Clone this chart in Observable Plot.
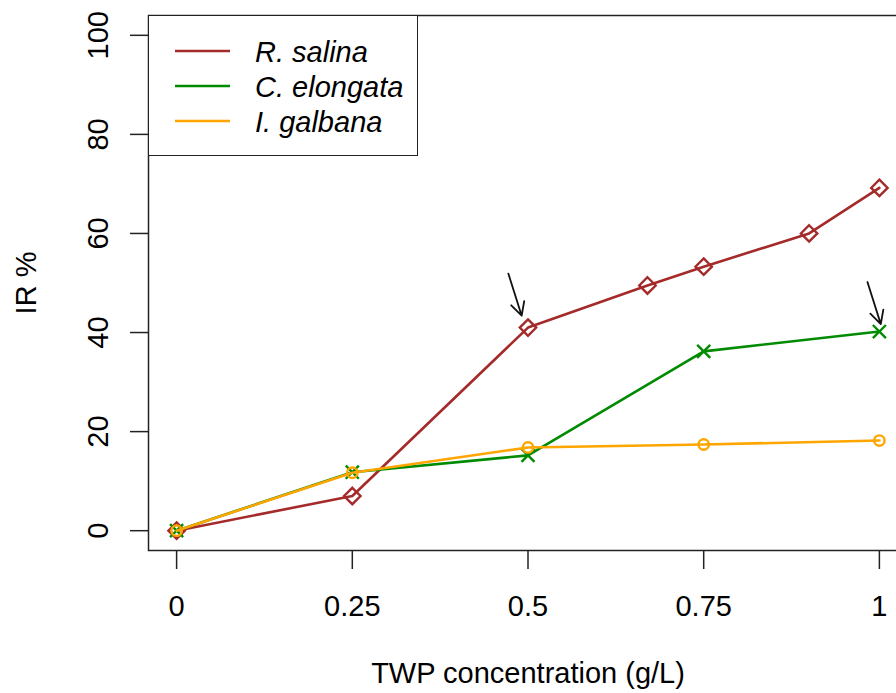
<!DOCTYPE html>
<html>
<head>
<meta charset="utf-8">
<script src="https://cdn.jsdelivr.net/npm/d3@7"></script>
<script src="https://cdn.jsdelivr.net/npm/@observablehq/plot@0.6"></script>
<style>
  html, body { margin: 0; padding: 0; background: #fff; }
  #wrap { position: relative; width: 896px; height: 693px; overflow: hidden; font-family: "Liberation Sans", Arial, sans-serif; }
  #legend { position: absolute; left: 148px; top: 15px; width: 270px; height: 141px; border: 1.5px solid #222; box-sizing: border-box; background: #fff; }
</style>
</head>
<body>
<div id="wrap"></div>
<script>
// ---- data ----
const seriesNames = ["R. salina", "C. elongata", "I. galbana"];
const seriesColors = ["#A52A2A", "#008B00", "#FFA500"];
const seriesSymbols = ["diamond2", "times", "circle"];

const xRsalina = [0, 0.25, 0.5, 0.67, 0.75, 0.9, 1];
const yRsalina = [0, 7.0, 41.0, 49.5, 53.3, 60.0, 69.2];

const xCelongata = [0, 0.25, 0.5, 0.75, 1];
const yCelongata = [0, 11.8, 15.2, 36.2, 40.2];

const xIgalbana = [0, 0.25, 0.5, 0.75, 1];
const yIgalbana = [0, 11.7, 16.8, 17.4, 18.2];

const xTicks = [0, 0.25, 0.5, 0.75, 1];
const xTickLabels = ["0", "0.25", "0.5", "0.75", "1"];
const yTicks = [0, 20, 40, 60, 80, 100];
const yTickLabels = ["0", "20", "40", "60", "80", "100"];

const xTitle = "TWP concentration (g/L)";
const yTitle = "IR %";

// arrows (annotations), in data units
const arrowX1 = [0.472, 0.983];
const arrowY1 = [51.9, 50.2];
const arrowX2 = [0.491, 1.002];
const arrowY2 = [43.4, 41.7];

// ---- build tables ----
const seriesX = [xRsalina, xCelongata, xIgalbana];
const seriesY = [yRsalina, yCelongata, yIgalbana];
const rows = [];
seriesNames.forEach((name, s) => {
  seriesX[s].forEach((x, i) => rows.push({series: name, x, y: seriesY[s][i]}));
});
const arrows = arrowX1.map((x1, i) => ({x1, y1: arrowY1[i], x2: arrowX2[i], y2: arrowY2[i]}));

const marks = [
  Plot.frame({stroke: "#222", strokeWidth: 1.5}),
  Plot.axisX({ticks: xTicks, tickFormat: (d, i) => xTickLabels[xTicks.indexOf(d)], tickSize: 19, tickPadding: 26, stroke: "#222", strokeWidth: 1.5, fontSize: 29, fill: "#000", label: null}),
  Plot.axisY({ticks: yTicks, tickFormat: (d) => yTickLabels[yTicks.indexOf(d)], tickSize: 18, tickPadding: 23, tickRotate: -90, stroke: "#222", strokeWidth: 1.5, fontSize: 29, fill: "#000", label: null}),
  Plot.text([xTitle], {frameAnchor: "bottom", dy: 123, text: d => d, fontSize: 29, fill: "#000", lineAnchor: "middle"}),
  Plot.text([yTitle], {frameAnchor: "left", dx: -113, rotate: -90, text: d => d, fontSize: 29, fill: "#000", lineAnchor: "bottom", textAnchor: "middle"})
];
seriesNames.forEach((name, s) => {
  const d = rows.filter(r => r.series === name);
  marks.push(Plot.line(d, {x: "x", y: "y", stroke: seriesColors[s], strokeWidth: 2.6}));
  marks.push(Plot.dot(d, {x: "x", y: "y", symbol: () => seriesSymbols[s], r: s === 0 ? 7.4 : (s === 1 ? 6 : 5.2), stroke: seriesColors[s], fill: "none", strokeWidth: 2.4}));
});
marks.push(Plot.arrow(arrows, {x1: "x1", y1: "y1", x2: "x2", y2: "y2", stroke: "#111", strokeWidth: 1.8, headLength: 15, headAngle: 55}));

const chart = Plot.plot({
  width: 896,
  height: 693,
  marginLeft: 148,
  marginTop: 15,
  marginBottom: 143,
  marginRight: -11,
  x: {domain: [-0.04, 1.04]},
  y: {domain: [-4, 104]},
  symbol: {type: "identity"},
  style: {fontFamily: "'Liberation Sans', Arial, sans-serif", fontSize: "29px", background: "#fff", color: "#000"},
  marks
});
const wrap = document.getElementById("wrap");
wrap.appendChild(chart);

// ---- legend ----
const legend = document.createElement("div");
legend.id = "legend";
const ns = "http://www.w3.org/2000/svg";
const lsvg = document.createElementNS(ns, "svg");
lsvg.setAttribute("width", 268);
lsvg.setAttribute("height", 139);
lsvg.style.position = "absolute";
lsvg.style.left = "0px";
lsvg.style.top = "0px";
seriesNames.forEach((name, i) => {
  const yy = 35 + i * 35;
  const ln = document.createElementNS(ns, "line");
  ln.setAttribute("x1", 26); ln.setAttribute("x2", 81);
  ln.setAttribute("y1", yy); ln.setAttribute("y2", yy);
  ln.setAttribute("stroke", seriesColors[i]);
  ln.setAttribute("stroke-width", 2.6);
  lsvg.appendChild(ln);
  const tx = document.createElementNS(ns, "text");
  tx.setAttribute("x", 106);
  tx.setAttribute("y", yy + 10.5);
  tx.setAttribute("font-size", 29);
  tx.setAttribute("font-style", "italic");
  tx.setAttribute("font-family", "'Liberation Sans', Arial, sans-serif");
  tx.setAttribute("fill", "#000");
  tx.textContent = name;
  lsvg.appendChild(tx);
});
legend.appendChild(lsvg);
wrap.appendChild(legend);
</script>
</body>
</html>
